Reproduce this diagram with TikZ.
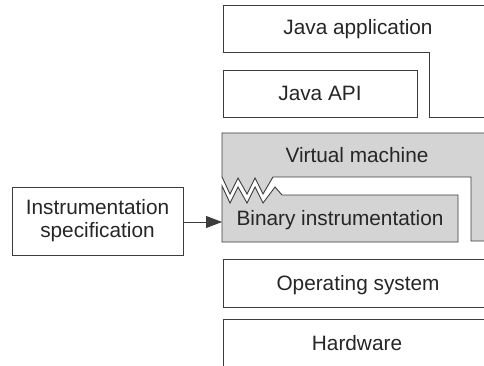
\documentclass[tikz,border=0pt]{standalone}
\usepackage{fontspec}
\setmainfont{Liberation Sans}
\usetikzlibrary{arrows.meta}
\definecolor{edge}{HTML}{3C3C3C}
\definecolor{vmgray}{HTML}{D4D4D4}
\tikzset{
  layer/.style={draw=edge, line width=0.9pt, fill=white, line join=miter},
  graylayer/.style={draw=edge, line width=0.9pt, fill=vmgray, line join=miter},
  label/.style={font=\fontsize{20.8}{24}\selectfont, text=black!85, inner sep=0pt, anchor=base},
  specbox/.style={draw=edge, line width=0.9pt, fill=white, minimum width=171pt, minimum height=68pt, inner sep=0pt, align=center, font=\fontsize{20.8}{23}\selectfont, text=black!85},
  flow/.style={draw=edge, line width=0.9pt, -{Triangle[length=16pt,width=12pt]}}
}
\begin{document}
\begin{tikzpicture}[x=1pt,y=-1pt]
\useasboundingbox (0,0) rectangle (484,366);
\clip (0,0) rectangle (484,366);
% Java application
\draw[layer] (223,5) -- (500,5) -- (500,117) -- (429,117) -- (429,52) -- (223,52) -- cycle;
\node[label] (app) at (358,35) {Java application};
% Java API
\draw[layer] (223,70) rectangle (417,117);
\node[label] (api) at (320,101) {Java API};
% Virtual machine
\draw[graylayer] (222,133) -- (500,133) -- (500,241) -- (471,241) -- (471,177) -- (273,177)
  -- (263,194) -- (255,178) -- (247,194) -- (238,178) -- (230,194) -- (222,177) -- cycle;
\node[label] (vm) at (357,163) {Virtual machine};
% Binary instrumentation
\draw[graylayer] (222,242) -- (458,242) -- (458,195) -- (282,195) -- (275,187)
  -- (263,203) -- (255,187) -- (247,203) -- (238,187) -- (230,203) -- (222,186) -- cycle;
\node[label] (bin) at (340,225) {Binary instrumentation};
\coordinate (binleft) at (222,222);
% Operating system
\draw[layer] (223,259) rectangle (500,307);
\node[label] (os) at (358,290) {Operating system};
% Hardware
\draw[layer] (223,319) rectangle (500,380);
\node[label] (hw) at (357,350) {Hardware};
% Instrumentation specification
\node[specbox] (spec) at (97.5,221) {Instrumentation\\specification};
\draw[flow] (spec.east |- binleft) -- (binleft);
\end{tikzpicture}
\end{document}
